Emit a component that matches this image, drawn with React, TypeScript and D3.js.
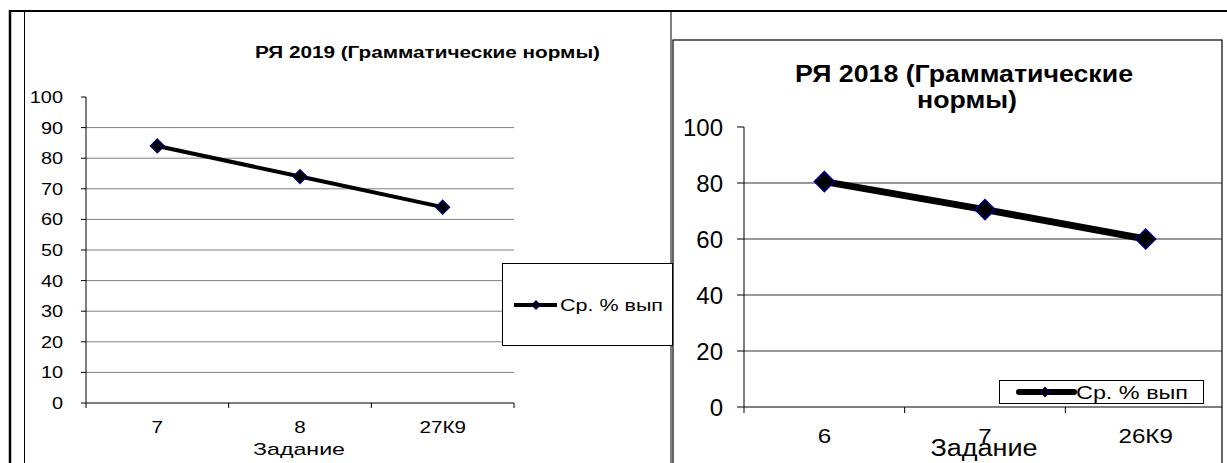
import React from "react";
import * as d3 from "d3";

const categories2019 = ["7", "8", "27К9"];
const values2019 = [84, 74, 64];
const ticks2019 = [0, 10, 20, 30, 40, 50, 60, 70, 80, 90, 100];

const categories2018 = ["6", "7", "26К9"];
const values2018 = [80.5, 70.5, 60];
const ticks2018 = [0, 20, 40, 60, 80, 100];

const seriesName = "Ср. % вып";
const title2019 = "РЯ 2019 (Грамматические нормы)";
const title2018a = "РЯ 2018 (Грамматические";
const title2018b = "нормы)";
const xTitle = "Задание";

const FONT = "'Liberation Sans', Arial, sans-serif";

function diamond(cx: number, cy: number, r: number) {
  return `M${cx},${cy - r}L${cx + r},${cy}L${cx},${cy + r}L${cx - r},${cy}Z`;
}

type TProps = {
  x: number;
  y: number;
  size: number;
  sx?: number;
  anchor?: "start" | "middle" | "end";
  bold?: boolean;
  len?: number;
  children: React.ReactNode;
};

function T({ x, y, size, sx = 1, anchor = "start", bold = false, len, children }: TProps) {
  return (
    <text
      transform={`translate(${x},${y}) scale(${sx},1)`}
      textAnchor={anchor}
      fontSize={size}
      fontWeight={bold ? "bold" : "normal"}
      fill="#000"
      {...(len ? { textLength: len, lengthAdjust: "spacingAndGlyphs" } : {})}
    >
      {children}
    </text>
  );
}

export default function App() {
  // Left chart
  const xL = d3.scaleBand<string>().domain(categories2019).range([86, 514]);
  const yL = d3.scaleLinear().domain([0, 100]).range([403, 97]);
  const lineL = d3
    .line<number>()
    .x((_, i) => (xL(categories2019[i]) as number) + xL.bandwidth() / 2)
    .y((d) => yL(d));

  // Right chart
  const xR = d3.scaleBand<string>().domain(categories2018).range([744, 1226]);
  const yR = d3.scaleLinear().domain([0, 100]).range([407, 127]);
  const lineR = d3
    .line<number>()
    .x((_, i) => (xR(categories2018[i]) as number) + xR.bandwidth() / 2)
    .y((d) => yR(d));

  const bandEdgesL = [...categories2019.map((c) => xL(c) as number), 514];
  const bandEdgesR = categories2018.map((c) => xR(c) as number).slice(1);

  return (
    <svg
      width={1227}
      height={463}
      style={{ position: "absolute", left: 0, top: 0, background: "#fff" }}
      fontFamily={FONT}
    >
      <rect x={0} y={0} width={1227} height={463} fill="#fff" />
      {/* table frame */}
      <line x1={9} y1={11} x2={1227} y2={11} stroke="#000" strokeWidth={2} />
      <line x1={10} y1={10} x2={10} y2={463} stroke="#000" strokeWidth={2.5} />
      <line x1={24.5} y1={11} x2={24.5} y2={463} stroke="#000" strokeWidth={1} />
      <line x1={671} y1={11} x2={671} y2={463} stroke="#000" strokeWidth={1} />

      {/* LEFT CHART */}
      <T x={427.5} y={58} size={16} bold anchor="middle" len={345}>
        {title2019}
      </T>
      {ticks2019.map((t) => (
        <g key={"lt" + t}>
          {t > 0 && t < 100 && (
            <line x1={86} x2={514} y1={yL(t)} y2={yL(t)} stroke="#808080" strokeWidth={1} />
          )}
          <line x1={81} x2={86} y1={yL(t)} y2={yL(t)} stroke="#000" strokeWidth={1} />
          <T x={63} y={yL(t) + 6} size={17} sx={1.17} anchor="end">
            {t}
          </T>
        </g>
      ))}
      <line x1={86} x2={86} y1={yL(100)} y2={yL(0)} stroke="#000" strokeWidth={1} />
      <line x1={86} x2={514} y1={yL(0)} y2={yL(0)} stroke="#000" strokeWidth={1} />
      {bandEdgesL.map((e, i) => (
        <line key={"lx" + i} x1={e} x2={e} y1={yL(0)} y2={yL(0) + 5} stroke="#000" strokeWidth={1} />
      ))}
      {categories2019.map((c) => (
        <T key={"lc" + c} x={(xL(c) as number) + xL.bandwidth() / 2} y={433} size={16.5} sx={1.25} anchor="middle">
          {c}
        </T>
      ))}
      <T x={299} y={455} size={17} anchor="middle" len={92}>
        {xTitle}
      </T>
      <path d={lineL(values2019) as string} fill="none" stroke="#000" strokeWidth={4} />
      {values2019.map((v, i) => (
        <path
          key={"lm" + i}
          d={diamond((xL(categories2019[i]) as number) + xL.bandwidth() / 2, yL(v), 7)}
          fill="#000"
          stroke="#000080"
          strokeWidth={1.2}
        />
      ))}
      {/* left legend */}
      <rect x={502.5} y={263.5} width={170} height={82} fill="#fff" stroke="#000" strokeWidth={1} />
      <line x1={514} x2={557} y1={305} y2={305} stroke="#000" strokeWidth={4} />
      <path d={diamond(536, 305, 4.5)} fill="#000" stroke="#000080" strokeWidth={1} />
      <T x={560} y={311} size={16} len={103}>
        {seriesName}
      </T>

      {/* RIGHT CHART */}
      <rect x={673} y={40} width={549} height={430} fill="#fff" stroke="#000" strokeWidth={1.2} />
      <T x={964} y={82} size={24} bold anchor="middle" len={338}>
        {title2018a}
      </T>
      <T x={967} y={108} size={24} bold anchor="middle" len={100}>
        {title2018b}
      </T>
      {ticks2018.map((t) => (
        <g key={"rt" + t}>
          {t > 0 && t < 100 && (
            <line x1={744} x2={1222} y1={yR(t)} y2={yR(t)} stroke="#333" strokeWidth={1} />
          )}
          <line x1={737} x2={744} y1={yR(t)} y2={yR(t)} stroke="#000" strokeWidth={1} />
          <T x={723} y={yR(t) + 8.5} size={24} anchor="end">
            {t}
          </T>
        </g>
      ))}
      <line x1={744} x2={744} y1={yR(100)} y2={yR(0) + 6} stroke="#000" strokeWidth={1} />
      <line x1={744} x2={1222} y1={yR(0)} y2={yR(0)} stroke="#000" strokeWidth={1} />
      {bandEdgesR.map((e, i) => (
        <line key={"rx" + i} x1={e} x2={e} y1={yR(0)} y2={yR(0) + 6} stroke="#000" strokeWidth={1} />
      ))}
      {categories2018.map((c) => (
        <T key={"rc" + c} x={(xR(c) as number) + xR.bandwidth() / 2} y={443} size={21} sx={1.15} anchor="middle">
          {c}
        </T>
      ))}
      <T x={984} y={456} size={23} anchor="middle" len={107}>
        {xTitle}
      </T>
      <path d={lineR(values2018) as string} fill="none" stroke="#000" strokeWidth={7} />
      {values2018.map((v, i) => (
        <path
          key={"rm" + i}
          d={diamond((xR(categories2018[i]) as number) + xR.bandwidth() / 2, yR(v), 10)}
          fill="#000"
          stroke="#000080"
          strokeWidth={1.5}
        />
      ))}
      {/* right legend */}
      <rect x={999.5} y={380.5} width={204} height={23} fill="#fff" stroke="#000" strokeWidth={1} />
      <line x1={1019} x2={1074} y1={392} y2={392} stroke="#000" strokeWidth={6} strokeLinecap="round" />
      <path d={diamond(1045, 392, 5)} fill="#000" stroke="#000080" strokeWidth={1} />
      <T x={1076} y={399} size={19} len={112}>
        {seriesName}
      </T>
    </svg>
  );
}
